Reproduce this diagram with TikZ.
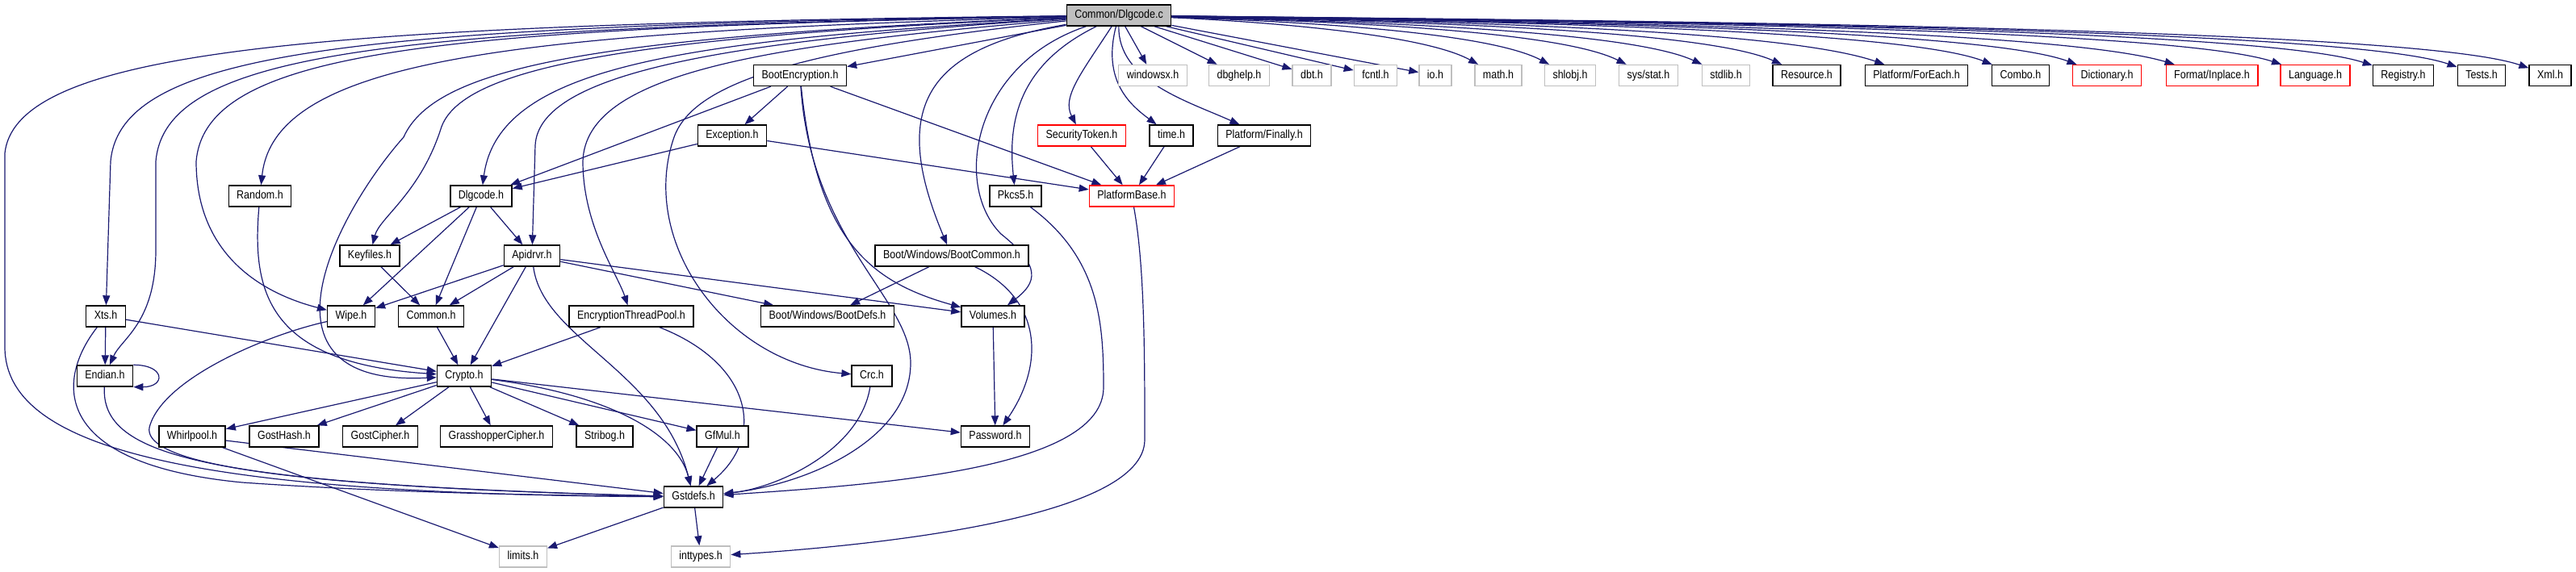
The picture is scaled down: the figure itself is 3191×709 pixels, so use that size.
\documentclass[tikz,border=0pt]{standalone}
\usepackage{fontspec}
\setmainfont{Liberation Sans}
\newfontfamily\doxyfont{Liberation Sans}[FakeStretch=0.86]
\usetikzlibrary{arrows.meta}
\definecolor{DoxyEdge}{HTML}{191970}
\definecolor{DoxyGrey}{HTML}{BFBFBF}
\definecolor{DoxyRed}{HTML}{FF0000}
\pgfdeclarelayer{edgelayer}
\pgfsetlayers{edgelayer,main}
\tikzset{
  hdrnode/.style={draw=black, fill=white, rectangle, line width=1.4pt,
                  minimum height=26pt, inner xsep=10pt, inner ysep=0pt,
                  text height=10.5pt, text depth=3pt,
                  font=\doxyfont\fontsize{14.5}{16}\selectfont},
  sysnode/.style={hdrnode, draw=DoxyGrey},
  trunode/.style={hdrnode, draw=DoxyRed},
  rootnode/.style={hdrnode, fill=DoxyGrey},
  dep/.style={-{Triangle[length=12pt,width=9pt]}, line width=1.2pt, draw=DoxyEdge}
}

\begin{document}
\begin{tikzpicture}[x=1pt, y=-1pt]
  \useasboundingbox (0,0) rectangle (3191,709);

  \node[rootnode] (dlgc) at (1386,19) {Common/Dlgcode.c};

  % row 1
  \node[hdrnode] (bootenc)    at (991,93.5)  {BootEncryption.h};
  \node[sysnode] (windowsx)   at (1428,93.5) {windowsx.h};
  \node[sysnode] (dbghelp)    at (1535,93.5) {dbghelp.h};
  \node[sysnode] (dbt)        at (1625,93.5) {dbt.h};
  \node[sysnode] (fcntl)      at (1704,93.5) {fcntl.h};
  \node[sysnode] (ioh)        at (1778,93.5) {io.h};
  \node[sysnode] (mathh)      at (1856,93.5) {math.h};
  \node[sysnode] (shlobj)     at (1945,93.5) {shlobj.h};
  \node[sysnode] (sysstat)    at (2042,93.5) {sys/stat.h};
  \node[sysnode] (stdlib)     at (2138,93.5) {stdlib.h};
  \node[hdrnode] (resource)   at (2238,93.5) {Resource.h};
  \node[hdrnode] (foreach)    at (2374,93.5) {Platform/ForEach.h};
  \node[hdrnode] (combo)      at (2503,93.5) {Combo.h};
  \node[trunode] (dictionary) at (2610,93.5) {Dictionary.h};
  \node[trunode] (inplace)    at (2740,93.5) {Format/Inplace.h};
  \node[trunode] (language)   at (2868,93.5) {Language.h};
  \node[hdrnode] (registry)   at (2977,93.5) {Registry.h};
  \node[hdrnode] (tests)      at (3074,93.5) {Tests.h};
  \node[hdrnode] (xmlh)       at (3159,93.5) {Xml.h};

  % row 2
  \node[hdrnode] (exception) at (907,168)  {Exception.h};
  \node[trunode] (sectoken)  at (1340,168) {SecurityToken.h};
  \node[hdrnode] (timeh)     at (1451,168) {time.h};
  \node[hdrnode] (finally)   at (1566,168) {Platform/Finally.h};

  % row 3
  \node[hdrnode] (random)   at (322,243)  {Random.h};
  \node[hdrnode] (dlgh)     at (596,243)  {Dlgcode.h};
  \node[hdrnode] (pkcs)     at (1258,243) {Pkcs5.h};
  \node[trunode] (platbase) at (1402,243) {PlatformBase.h};

  % row 4
  \node[hdrnode] (keyfiles)   at (458,317)  {Keyfiles.h};
  \node[hdrnode] (apidrvr)    at (659,317)  {Apidrvr.h};
  \node[hdrnode] (bootcommon) at (1179,317) {Boot/Windows/BootCommon.h};

  % row 5
  \node[hdrnode] (xts)      at (131,392)  {Xts.h};
  \node[hdrnode] (wipe)     at (435,392)  {Wipe.h};
  \node[hdrnode] (common)   at (534,392)  {Common.h};
  \node[hdrnode] (etp)      at (782,392)  {EncryptionThreadPool.h};
  \node[hdrnode] (bootdefs) at (1025,392) {Boot/Windows/BootDefs.h};
  \node[hdrnode] (volumes)  at (1230,392) {Volumes.h};

  % row 6
  \node[hdrnode] (endian) at (130,466)  {Endian.h};
  \node[hdrnode] (crypto) at (575,466)  {Crypto.h};
  \node[hdrnode] (crc)    at (1080,466) {Crc.h};

  % row 7
  \node[hdrnode] (whirlpool)   at (238,541)  {Whirlpool.h};
  \node[hdrnode] (gosthash)    at (352,541)  {GostHash.h};
  \node[hdrnode] (gostcipher)  at (471,541)  {GostCipher.h};
  \node[hdrnode] (grasshopper) at (615,541)  {GrasshopperCipher.h};
  \node[hdrnode] (stribog)     at (749,541)  {Stribog.h};
  \node[hdrnode] (gfmul)       at (895,541)  {GfMul.h};
  \node[hdrnode] (password)    at (1233,541) {Password.h};

  % rows 8 and 9
  \node[hdrnode] (gstdefs)  at (859,616) {Gstdefs.h};
  \node[sysnode] (limits)   at (648,690) {limits.h};
  \node[sysnode] (inttypes) at (868,690) {inttypes.h};

  \begin{pgfonlayer}{edgelayer}
  % Dlgcode.c -> top row
  \draw[dep] (dlgc) -- (bootenc);
  \draw[dep] (dlgc) -- (windowsx);
  \draw[dep] (dlgc) -- (dbghelp);
  \draw[dep] (dlgc) -- (dbt);
  \draw[dep] (dlgc) -- (fcntl);
  \draw[dep] (dlgc) -- (ioh);
  \draw[dep] (dlgc) .. controls +(140,6) and +(-100,-55) .. (mathh);
  \draw[dep] (dlgc) .. controls +(170,6) and +(-110,-58) .. (shlobj);
  \draw[dep] (dlgc) .. controls +(200,6) and +(-120,-60) .. (sysstat);
  \draw[dep] (dlgc) .. controls +(225,6) and +(-130,-60) .. (stdlib);
  \draw[dep] (dlgc) .. controls +(255,6) and +(-140,-62) .. (resource);
  \draw[dep] (dlgc) .. controls +(300,6) and +(-180,-62) .. (foreach);
  \draw[dep] (dlgc) .. controls +(335,6) and +(-160,-62) .. (combo);
  \draw[dep] (dlgc) .. controls +(370,6) and +(-170,-62) .. (dictionary);
  \draw[dep] (dlgc) .. controls +(400,6) and +(-210,-62) .. (inplace);
  \draw[dep] (dlgc) .. controls +(445,6) and +(-190,-62) .. (language);
  \draw[dep] (dlgc) .. controls +(480,6) and +(-190,-62) .. (registry);
  \draw[dep] (dlgc) .. controls +(500,6) and +(-180,-62) .. (tests);
  \draw[dep] (dlgc) .. controls +(530,6) and +(-180,-62) .. (xmlh);

  % Dlgcode.c -> the rest
  \draw[dep] (dlgc) .. controls (1340,90) and (1315,120) .. (sectoken);
  \draw[dep] (dlgc) .. controls (1365,100) and (1400,130) .. (timeh);
  \draw[dep] (dlgc) .. controls (1385,100) and (1470,125) .. (finally);
  \draw[dep] (dlgc) .. controls (1262,80) and (1248,150) .. (pkcs);
  \draw[dep] (dlgc) .. controls (1205,80) and (1180,230) .. (1240,290) .. controls (1290,330) and (1285,350) .. (volumes);
  \draw[dep] (dlgc) .. controls (1150,60) and (1100,130) .. (bootcommon);
  \draw[dep] (dlgc) .. controls (1000,60) and (860,100) .. (835,170) .. controls (790,300) and (900,450) .. (crc);
  \draw[dep] (dlgc) .. controls (950,55) and (725,90) .. (722,200) .. controls (722,280) and (765,340) .. (etp);
  \draw[dep] (dlgc) .. controls (900,50) and (668,90) .. (663,180) -- (apidrvr);
  \draw[dep] (dlgc) .. controls (850,50) and (618,80) .. (dlgh);
  \draw[dep] (dlgc) .. controls (800,45) and (570,80) .. (546,160) .. controls (520,240) and (470,270) .. (keyfiles);
  \draw[dep] (dlgc) .. controls (750,45) and (540,80) .. (500,170) .. controls (420,260) and (300,480) .. (crypto);
  \draw[dep] (dlgc) .. controls (650,40) and (340,70) .. (random);
  \draw[dep] (dlgc) .. controls (550,35) and (255,60) .. (243,200) .. controls (243,320) and (330,365) .. (wipe);
  \draw[dep] (dlgc) .. controls (500,35) and (205,60) .. (193,200) -- (193,310) .. controls (193,400) and (150,420) .. (endian);
  \draw[dep] (dlgc) .. controls (450,32) and (150,60) .. (137,200) -- (xts);
  \draw[dep] (dlgc) .. controls (400,30) and (20,60) .. (6,190) -- (6,430) .. controls (6,560) and (250,612) .. (gstdefs);

  % BootEncryption.h, Exception.h
  \draw[dep] (bootenc) -- (dlgh);
  \draw[dep] (bootenc) -- (exception);
  \draw[dep] (bootenc) -- (platbase);
  \draw[dep] (bootenc) .. controls (1012,300) and (1080,350) .. (volumes);
  \draw[dep] (bootenc) .. controls (1005,300) and (1128,370) .. (1128,450) .. controls (1128,545) and (1000,600) .. (gstdefs);
  \draw[dep] (exception) -- (dlgh);
  \draw[dep] (exception) -- (platbase);

  % into PlatformBase.h
  \draw[dep] (sectoken) -- (platbase);
  \draw[dep] (timeh) -- (platbase);
  \draw[dep] (finally) -- (platbase);
  \draw[dep] (platbase) .. controls (1418,330) and (1418,440) .. (1418,545) .. controls (1418,640) and (1100,675) .. (inttypes);
  \draw[dep] (pkcs) .. controls (1362,320) and (1367,400) .. (1367,480) .. controls (1367,580) and (1100,600) .. (gstdefs);

  % Dlgcode.h and friends
  \draw[dep] (dlgh) -- (keyfiles);
  \draw[dep] (dlgh) -- (wipe);
  \draw[dep] (dlgh) -- (common);
  \draw[dep] (dlgh) -- (apidrvr);
  \draw[dep] (keyfiles) -- (common);
  \draw[dep] (random) .. controls (312,360) and (330,450) .. (crypto);
  \draw[dep] (apidrvr) -- (wipe);
  \draw[dep] (apidrvr) -- (common);
  \draw[dep] (apidrvr) -- (crypto);
  \draw[dep] (apidrvr) -- (bootdefs);
  \draw[dep] (apidrvr) -- (volumes);
  \draw[dep] (apidrvr) .. controls (672,420) and (820,460) .. (gstdefs);
  \draw[dep] (bootcommon) -- (bootdefs);
  \draw[dep] (bootcommon) .. controls (1290,370) and (1295,450) .. (password);
  \draw[dep] (volumes) -- (password);

  % Xts.h, Endian.h, Wipe.h
  \draw[dep] (xts) -- (endian);
  \draw[dep] (xts) -- (crypto);
  \draw[dep] (xts) .. controls (70,470) and (60,575) .. (300,598) .. controls (500,612) and (700,614) .. (gstdefs);
  \draw[dep] (endian.north east) .. controls +(40,0) and +(40,0) .. (endian.south east);
  \draw[dep] (endian) .. controls (125,565) and (250,600) .. (gstdefs);
  \draw[dep] (wipe) .. controls (330,415) and (200,470) .. (185,530) .. controls (175,590) and (500,606) .. (gstdefs);
  \draw[dep] (common) -- (crypto);
  \draw[dep] (etp) -- (crypto);
  \draw[dep] (etp) .. controls (930,450) and (950,540) .. (gstdefs);

  % Crypto.h
  \draw[dep] (crypto) -- (whirlpool);
  \draw[dep] (crypto) -- (gosthash);
  \draw[dep] (crypto) -- (gostcipher);
  \draw[dep] (crypto) -- (grasshopper);
  \draw[dep] (crypto) -- (stribog);
  \draw[dep] (crypto) -- (gfmul);
  \draw[dep] (crypto) -- (password);
  \draw[dep] (crypto) .. controls (760,490) and (840,540) .. (gstdefs);
  \draw[dep] (crc) .. controls (1065,560) and (960,605) .. (gstdefs);

  % down to Gstdefs.h
  \draw[dep] (whirlpool) -- (gstdefs);
  \draw[dep] (whirlpool) -- (limits);
  \draw[dep] (gfmul) -- (gstdefs);
  \draw[dep] (gstdefs) -- (limits);
  \draw[dep] (gstdefs) -- (inttypes);
  \end{pgfonlayer}
\end{tikzpicture}
\end{document}
